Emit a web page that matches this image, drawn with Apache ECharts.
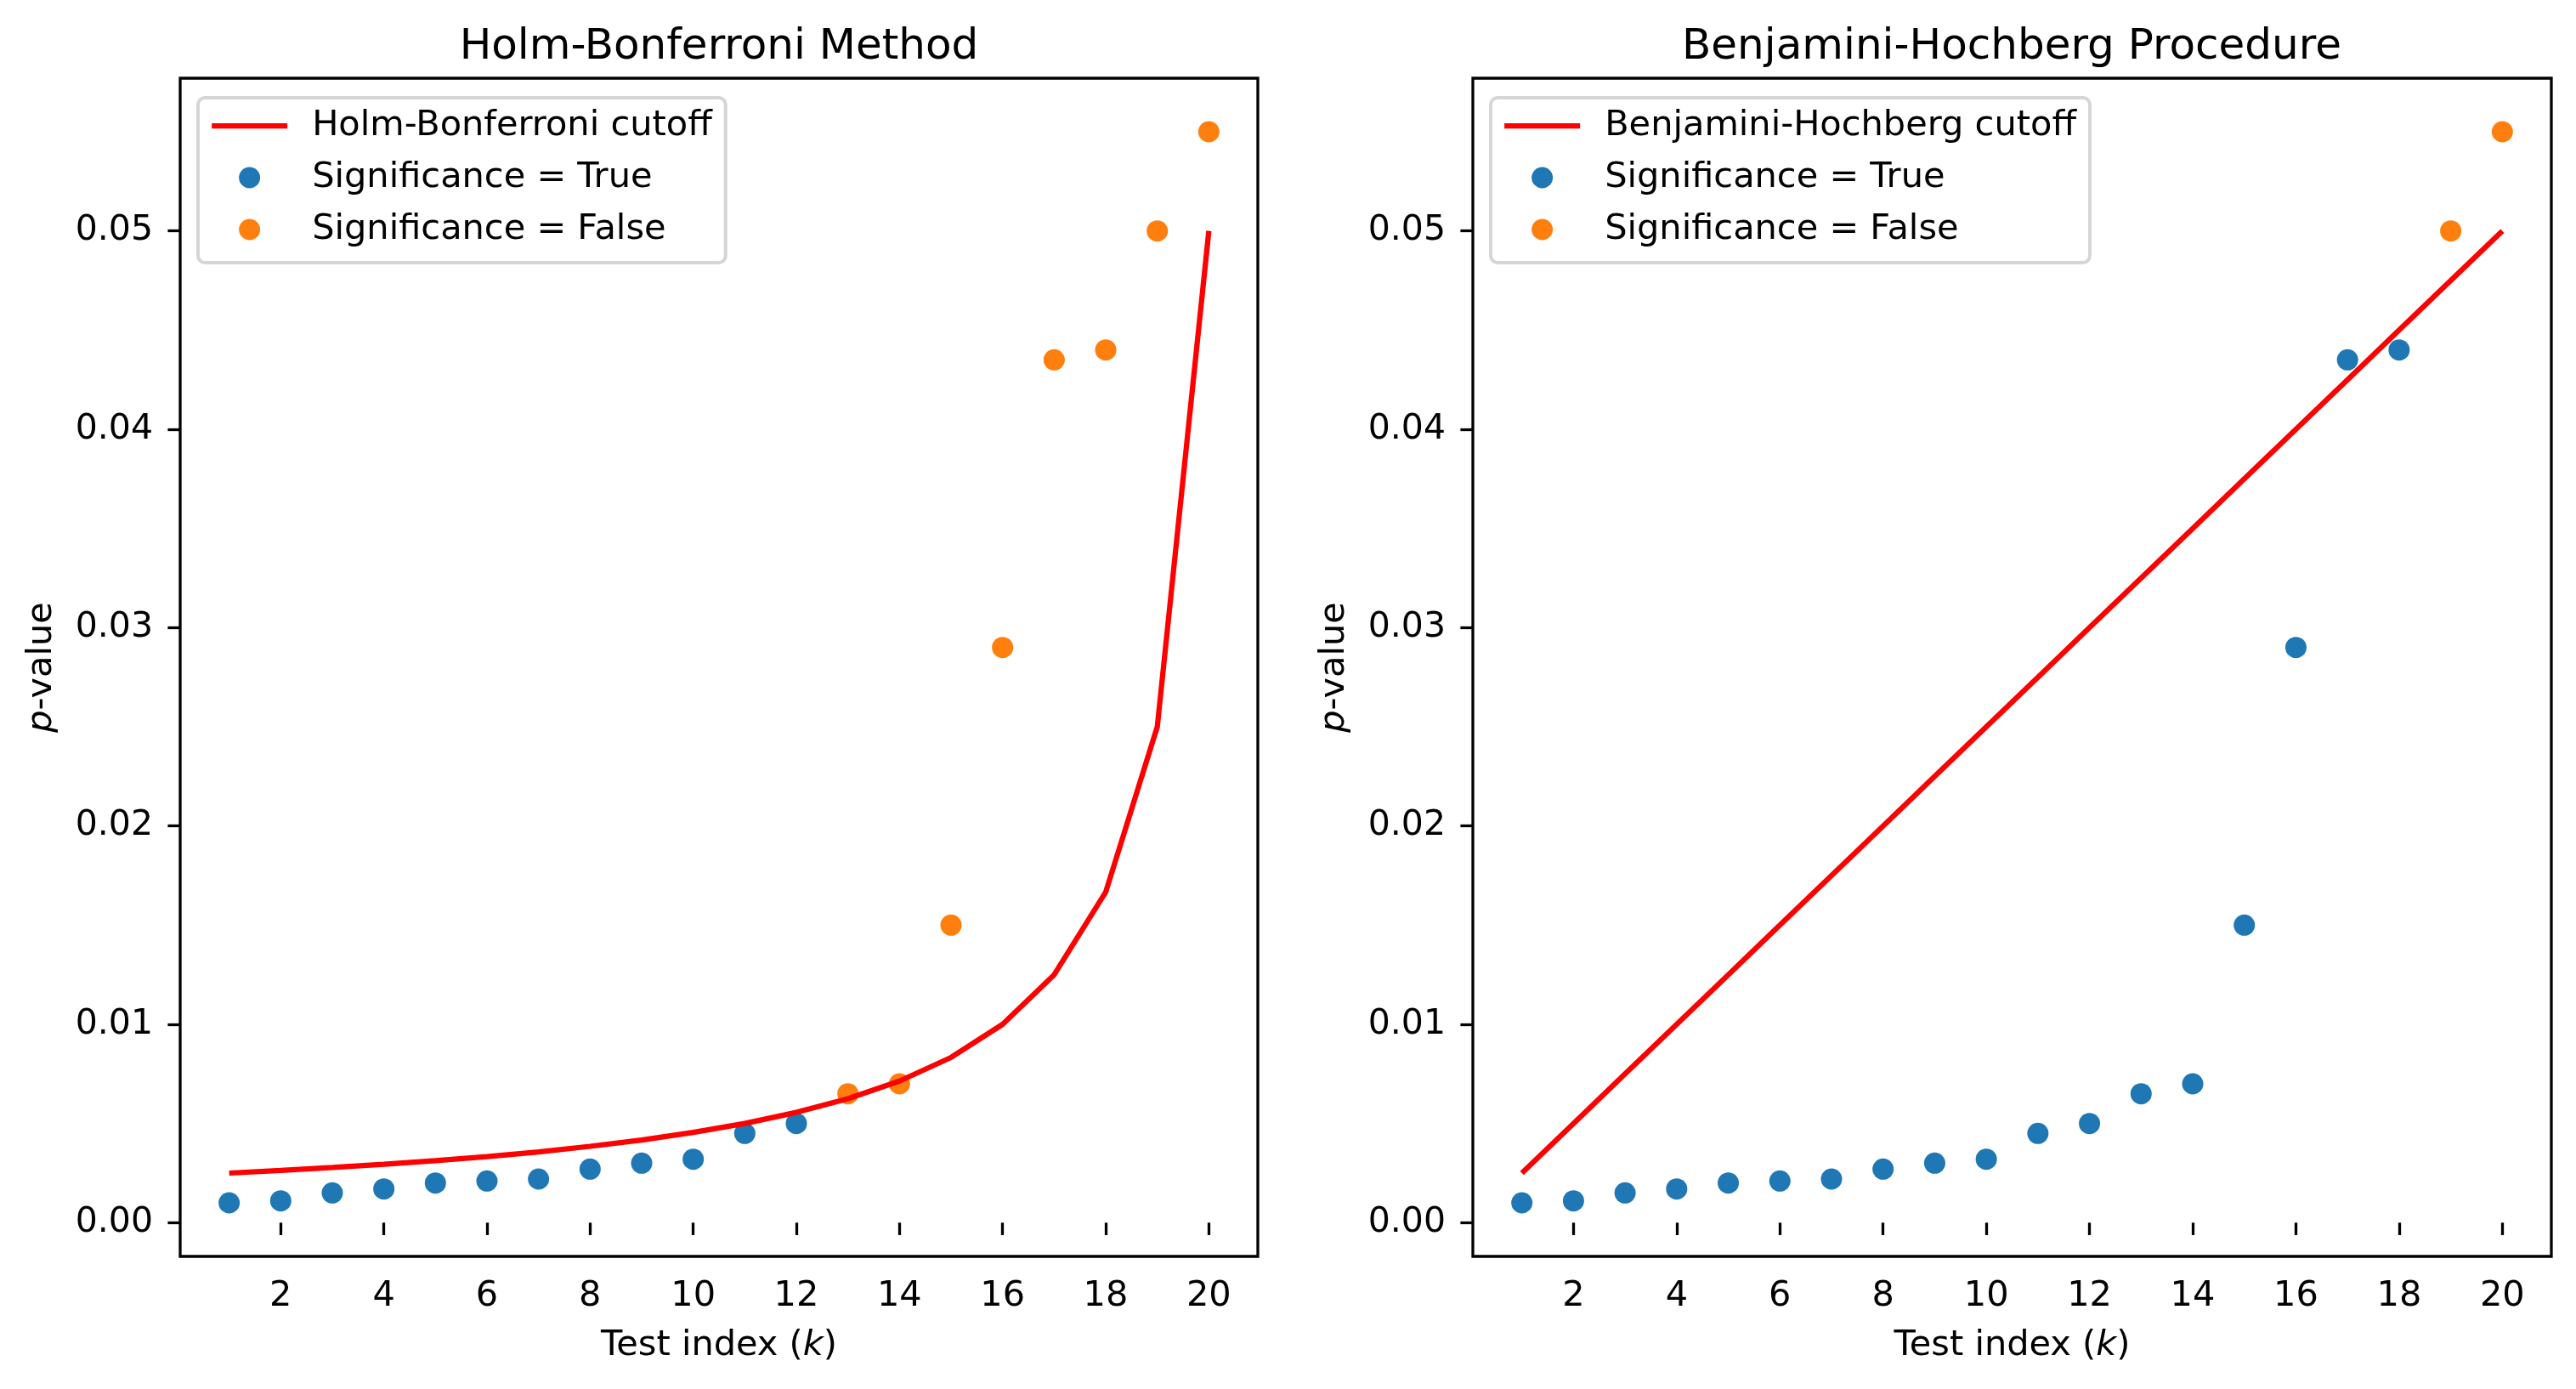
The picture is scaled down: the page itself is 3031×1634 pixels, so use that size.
<!DOCTYPE html>
<html>
<head>
<meta charset="utf-8">
<script src="https://cdn.jsdelivr.net/npm/echarts@6/dist/echarts.min.js"></script>
<style>
  html, body { margin: 0; padding: 0; background: #fff; }
  #main { width: 3031px; height: 1634px; }
</style>
</head>
<body>
<div id="main"></div>
<script>
// test index k and sorted p-values
var testIndex = [1, 2, 3, 4, 5, 6, 7, 8, 9, 10, 11, 12, 13, 14, 15, 16, 17, 18, 19, 20]
var pValues = [0.001, 0.0011, 0.0015, 0.0017, 0.002, 0.0021, 0.0022, 0.0027, 0.003, 0.0032,
               0.0045, 0.005, 0.0065, 0.007, 0.015, 0.029, 0.0435, 0.044, 0.05, 0.055]
var holmCutoff = [0.0025, 0.00263, 0.00278, 0.00294, 0.003125, 0.00333, 0.00357, 0.00385, 0.00417, 0.00455,
                  0.005, 0.00556, 0.00625, 0.00714, 0.00833, 0.01, 0.0125, 0.01667, 0.025, 0.05]
var bhCutoff = [0.0025, 0.005, 0.0075, 0.01, 0.0125, 0.015, 0.0175, 0.02, 0.0225, 0.025,
                0.0275, 0.03, 0.0325, 0.035, 0.0375, 0.04, 0.0425, 0.045, 0.0475, 0.05]
var holmSignificant = [true, true, true, true, true, true, true, true, true, true,
                       true, true, false, false, false, false, false, false, false, false]
var bhSignificant = [true, true, true, true, true, true, true, true, true, true,
                     true, true, true, true, true, true, true, true, false, false]
var xTicks = [2, 4, 6, 8, 10, 12, 14, 16, 18, 20]
var yTicks = [0, 0.01, 0.02, 0.03, 0.04, 0.05]

var font = 'DejaVu Sans'
var blue = '#1f77b4', orange = '#ff7f0e'

function pairs(ys) {
    return testIndex.map(function (k, i) { return [k, ys[i]] })
}
function points(flags, want) {
    var out = []
    testIndex.forEach(function (k, i) {
        if (flags[i] === want) out.push([k, pValues[i]])
    })
    return out
}

var myChart = echarts.init(document.getElementById('main'))

function xAxisFor(idx) {
    return {
        type: 'value', gridIndex: idx, min: 0.05, max: 20.95,
        name: 'Test index ({it|k})', nameLocation: 'middle', nameGap: 84,
        nameTextStyle: { fontFamily: font, fontSize: 41.5, color: '#000',
            rich: { it: { fontFamily: font, fontSize: 41.5, fontStyle: 'italic', color: '#000' } } },
        axisLine: { show: false },
        splitLine: { show: false },
        axisTick: { show: true, customValues: xTicks, length: 14.6, lineStyle: { color: '#000', width: 3.3 } },
        axisLabel: { customValues: xTicks, margin: 26, fontFamily: font, fontSize: 41.5, color: '#000' }
    }
}
function yAxisFor(idx) {
    return {
        type: 'value', gridIndex: idx, min: -0.0017, max: 0.0577,
        name: '{it|p}-value', nameLocation: 'middle', nameGap: 142, nameRotate: 90,
        nameTextStyle: { fontFamily: font, fontSize: 41.5, color: '#000',
            rich: { it: { fontFamily: font, fontSize: 41.5, fontStyle: 'italic', color: '#000' } } },
        axisLine: { show: false },
        splitLine: { show: false },
        axisTick: { show: true, customValues: yTicks, length: 14.6, lineStyle: { color: '#000', width: 3.3 } },
        axisLabel: { customValues: yTicks, margin: 32, fontFamily: font, fontSize: 41, color: '#000',
            formatter: function (v) { return v.toFixed(2) } }
    }
}
function legendFor(left, cutoffName) {
    return {
        orient: 'vertical', left: left, top: 115,
        data: [
            { name: cutoffName, itemStyle: { opacity: 0 }, lineStyle: { color: '#ff0000', width: 6.25 } },
            'Significance = True',
            'Significance = False'
        ],
        itemWidth: 89, itemHeight: 25, itemGap: 19,
        padding: [12, 16, 18, 13],
        backgroundColor: 'rgba(255,255,255,0.8)',
        borderColor: '#d6d6d6', borderWidth: 4, borderRadius: 8,
        textStyle: { fontFamily: font, fontSize: 41.5, color: '#000', lineHeight: 42, padding: [0, 0, 0, 24] }
    }
}

myChart.setOption({
    animation: false,
    backgroundColor: '#fff',
    title: [
        { text: 'Holm-Bonferroni Method', left: 846, top: 31, textAlign: 'center', padding: 0,
          textStyle: { fontFamily: font, fontSize: 50, fontWeight: 'normal', color: '#000' } },
        { text: 'Benjamini-Hochberg Procedure', left: 2367, top: 31, textAlign: 'center', padding: 0,
          textStyle: { fontFamily: font, fontSize: 50, fontWeight: 'normal', color: '#000' } }
    ],
    grid: [
        { left: 212, top: 92, width: 1268, height: 1386, show: true, borderColor: '#000', borderWidth: 3.3 },
        { left: 1733, top: 92, width: 1269, height: 1386, show: true, borderColor: '#000', borderWidth: 3.3 }
    ],
    legend: [
        legendFor(233, 'Holm-Bonferroni cutoff'),
        legendFor(1754, 'Benjamini-Hochberg cutoff')
    ],
    xAxis: [xAxisFor(0), xAxisFor(1)],
    yAxis: [yAxisFor(0), yAxisFor(1)],
    series: [
        { name: 'Holm-Bonferroni cutoff', type: 'line', xAxisIndex: 0, yAxisIndex: 0,
          data: pairs(holmCutoff), symbol: 'none', lineStyle: { color: '#ff0000', width: 6.25 },
          itemStyle: { color: '#ff0000' } },
        { name: 'Significance = True', type: 'scatter', xAxisIndex: 0, yAxisIndex: 0,
          data: points(holmSignificant, true), symbolSize: 25, itemStyle: { color: blue, opacity: 1 } },
        { name: 'Significance = False', type: 'scatter', xAxisIndex: 0, yAxisIndex: 0,
          data: points(holmSignificant, false), symbolSize: 25, itemStyle: { color: orange, opacity: 1 } },
        { name: 'Benjamini-Hochberg cutoff', type: 'line', xAxisIndex: 1, yAxisIndex: 1,
          data: pairs(bhCutoff), symbol: 'none', lineStyle: { color: '#ff0000', width: 6.25 },
          itemStyle: { color: '#ff0000' } },
        { name: 'Significance = True', type: 'scatter', xAxisIndex: 1, yAxisIndex: 1,
          data: points(bhSignificant, true), symbolSize: 25, itemStyle: { color: blue, opacity: 1 } },
        { name: 'Significance = False', type: 'scatter', xAxisIndex: 1, yAxisIndex: 1,
          data: points(bhSignificant, false), symbolSize: 25, itemStyle: { color: orange, opacity: 1 } }
    ]
})
</script>
</body>
</html>
